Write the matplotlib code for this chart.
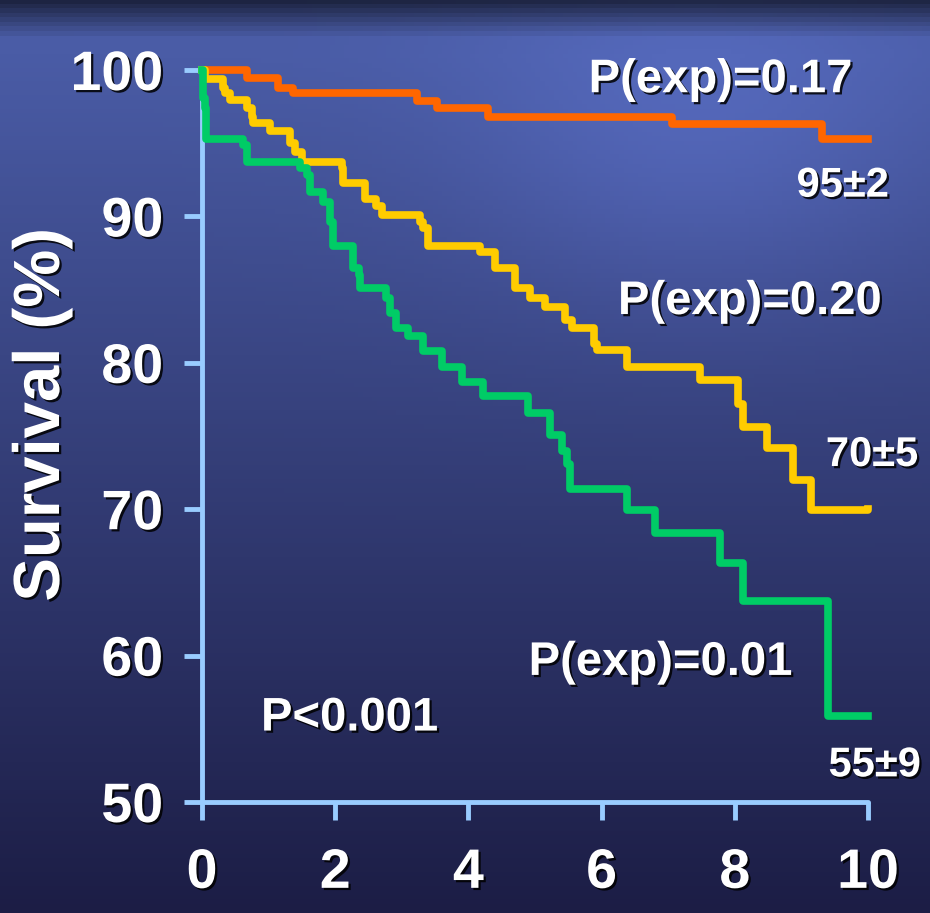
import numpy as np
import matplotlib
matplotlib.use("Agg")
import matplotlib.pyplot as plt
import matplotlib.patheffects as pe

plt.rcParams['font.family'] = ['Liberation Sans', 'DejaVu Sans']
plt.rcParams['font.weight'] = 'bold'

# Kaplan-Meier steps (time in years, survival in %)
t_orange = [0, 0.68, 1.14, 1.37, 3.23, 3.53, 4.29, 7.06, 9.31, 10.0]
s_orange = [100, 99.45, 98.8, 98.4, 97.9, 97.4, 96.8, 96.3, 95.3, 95.3]

t_yellow = [0, 0.04, 0.32, 0.345, 0.42, 0.67, 0.75, 0.77, 1.02, 1.32, 1.40, 1.50,
            2.10, 2.12, 2.45, 2.62, 2.70, 3.27, 3.32, 3.40, 4.17, 4.40, 4.70,
            4.92, 5.15, 5.45, 5.55, 5.88, 5.93, 6.38, 7.48, 8.05, 8.13, 8.48,
            8.88, 9.15, 10.0]
s_yellow = [100, 99.4, 98.75, 98.4, 97.95, 97.4, 96.8, 96.4, 95.8, 95.0, 94.4, 93.7,
            93.3, 92.3, 91.2, 90.7, 90.1, 89.6, 89.2, 88.0, 87.6, 86.5, 85.1,
            84.4, 83.8, 82.9, 82.4, 81.3, 80.9, 79.7, 78.8, 77.2, 75.6, 74.2,
            72.0, 69.95, 70.0]

t_green = [0, 0.02, 0.04, 0.06, 0.62, 0.67, 1.47, 1.57, 1.62, 1.82, 1.92, 1.97,
           2.27, 2.35, 2.37, 2.77, 2.82, 2.92, 3.10, 3.32, 3.60, 3.90, 4.22,
           4.90, 5.23, 5.40, 5.48, 5.53, 6.38, 6.80, 7.78, 8.13, 9.40, 10.0]
s_green = [100, 98.1, 97.4, 95.3, 94.9, 93.7, 93.3, 92.8, 91.7, 91.0, 89.6, 88.0,
           86.5, 86.0, 85.1, 84.4, 83.4, 82.4, 81.8, 80.8, 79.7, 78.7, 77.7,
           76.6, 75.1, 74.0, 73.1, 71.4, 69.95, 68.35, 66.3, 63.7, 55.9, 55.9]

x_ticks = [0, 2, 4, 6, 8, 10]
y_ticks = [50, 60, 70, 80, 90, 100]

shadow = [pe.withSimplePatchShadow(offset=(1.6, -1.6), shadow_rgbFace='black', alpha=0.85)]

fig = plt.figure(figsize=(9.3, 9.13), dpi=100)

# background gradient
bg = fig.add_axes([0, 0, 1, 1], zorder=-10)
bg.axis('off')
h, w = 200, 200
yy, xx = np.mgrid[0:1:h * 1j, 0:1:w * 1j]
top = np.array([0x4a, 0x5c, 0xa6]) / 255
bot = np.array([0x1c, 0x1d, 0x45]) / 255
f = np.clip((yy - 0.06) / 0.94, 0, 1)[..., None]
img = top * (1 - f) + bot * f
glow = np.exp(-(((xx - 0.75) / 0.25) ** 2 + ((yy - 0.15) / 0.2) ** 2))[..., None]
img = img + glow * np.array([0.05, 0.06, 0.1])
dark_top = np.clip(1 - yy / 0.04, 0, 1)[..., None]
img = img * (1 - 0.6 * dark_top)
img = np.clip(img, 0, 1)
bg.imshow(img, extent=[0, 1, 0, 1], aspect='auto', origin='upper')
bg.set_xlim(0, 1)
bg.set_ylim(0, 1)

ax = fig.add_axes([202 / 930, 1 - 802 / 913, 666 / 930, 732 / 913])
ax.patch.set_alpha(0)

ax.step(t_orange, s_orange, where='post', color='#ff6600', lw=5.5, clip_on=False, zorder=3)
ax.step(t_yellow, s_yellow, where='post', color='#ffcc00', lw=5.5, clip_on=False, zorder=3)
ax.step(t_green, s_green, where='post', color='#00cc66', lw=5.5, clip_on=False, zorder=3)

ax.set_xlim(0, 10)
ax.set_ylim(50, 100)
ax.set_xticks(x_ticks)
ax.set_yticks(y_ticks)
for s in ['top', 'right']:
    ax.spines[s].set_visible(False)
for s in ['left', 'bottom']:
    ax.spines[s].set_color('#99ccff')
    ax.spines[s].set_linewidth(3.5)
    ax.spines[s].set_capstyle('round')
ax.tick_params(axis='both', colors='#99ccff', width=3.5, length=13)
ax.tick_params(axis='y', pad=15, labelcolor='white', labelsize=40)
ax.tick_params(axis='x', pad=20, labelcolor='white', labelsize=40)
for lab in ax.get_xticklabels() + ax.get_yticklabels():
    lab.set_fontweight('bold')
    lab.set_path_effects(shadow)

fig.text(42 / 930, 1 - 415 / 913, 'Survival (%)', rotation=90, ha='center', va='center',
         color='white', fontsize=47, fontweight='bold', path_effects=shadow)

notes = [
    (7.79, 99.3, 'P(exp)=0.17', 34),
    (9.62, 92.1, '95±2', 30),
    (8.23, 84.15, 'P(exp)=0.20', 34),
    (10.06, 73.7, '70±5', 30),
    (6.89, 59.5, 'P(exp)=0.01', 34),
    (10.1, 52.5, '55±9', 30),
    (2.22, 55.7, 'P<0.001', 34),
]
for x, y, txt, size in notes:
    ax.text(x, y, txt, ha='center', va='center', color='white', fontsize=size,
            fontweight='bold', path_effects=shadow, clip_on=False, zorder=5)

fig.savefig('out.png', dpi=100)
